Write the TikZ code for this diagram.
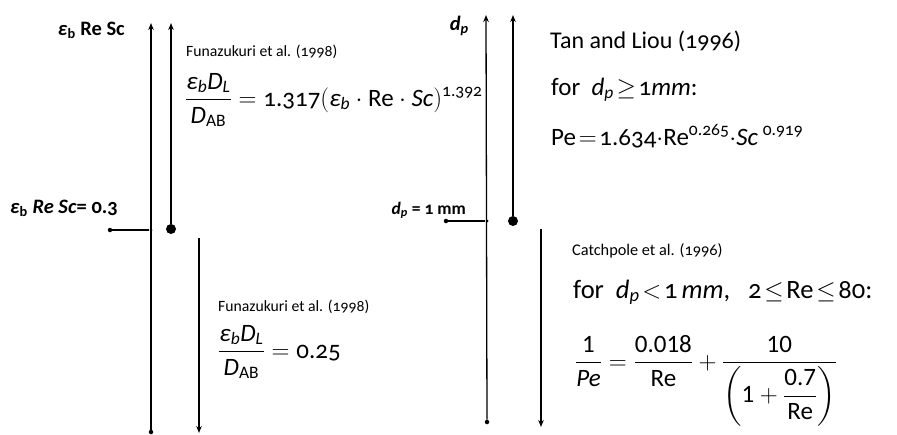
\documentclass[tikz,border=0pt]{standalone}
\usepackage{amsmath}
\usepackage{fontspec}
\setmainfont{Carlito}[Numbers=OldStyle]
\usetikzlibrary{arrows.meta}
\newcommand{\mi}[1]{\text{\itshape #1}}
\newcommand{\up}[1]{\text{#1}}
\newcommand{\lnum}[1]{\text{\addfontfeatures{Numbers=Lining}#1}}
\newcommand{\rel}[1]{\mkern2mu{#1}\mkern2mu}
\tikzset{
  axisline/.style={line width=1.3pt},
  uparrow/.style={axisline, -{Stealth[length=7pt,width=5.5pt]}},
  dnarrow/.style={axisline, -{Stealth[length=7pt,width=5.5pt]}},
  sdot/.style={circle, fill, inner sep=0pt, minimum size=4.5pt},
  jdot/.style={circle, fill, inner sep=0pt, minimum size=3pt},
  bdot/.style={circle, fill, inner sep=0pt, minimum size=10pt},
  reftxt/.style={anchor=base west, inner sep=0pt, font=\fontsize{15.7}{18}\selectfont},
  reftxtb/.style={anchor=base west, inner sep=0pt, font=\fontsize{16.3}{19}\selectfont},
  bigtxt/.style={anchor=base west, inner sep=0pt, font=\fontsize{24}{28}\selectfont},
  condtxt/.style={anchor=base west, inner sep=0pt, font=\fontsize{25}{30}\selectfont},
  condtxtw/.style={anchor=base west, inner sep=0pt, font=\fontsize{26.5}{31}\selectfont},
  eqtxt/.style={anchor=base west, inner sep=0pt, font=\fontsize{25}{30}\selectfont},
  peqtxt/.style={anchor=base west, inner sep=0pt, font=\fontsize{25}{30}\selectfont},
  boldlbl/.style={anchor=base east, inner sep=0pt, font=\fontsize{20.5}{24}\selectfont\bfseries},
  boldlbls/.style={anchor=base east, inner sep=0pt, font=\fontsize{17.5}{21}\selectfont\bfseries},
}
\begin{document}
\begin{tikzpicture}[x=1pt,y=-1pt]
\useasboundingbox (0,0) rectangle (897,434);
% ---------- left group ----------
\node[sdot] (a1) at (151,432) {};
\coordinate (a1t) at (151,23);
\draw[uparrow] (a1) -- (a1t);
\node[bdot] (b1) at (171,229) {};
\coordinate (b1t) at (171,23);
\draw[uparrow] (b1) -- (b1t);
\node[sdot] (h1) at (110,230) {};
\node[jdot] (j1) at (151,230) {};
\draw[axisline] (h1) -- (j1);
\coordinate (c1s) at (199,238);
\coordinate (c1e) at (199,433);
\draw[dnarrow] (c1s) -- (c1e);

\node[boldlbl] (l1) at (125,35) {\textit{ε}$_{\textbf{b}}$ Re Sc};
\node[boldlbl] (l2) at (118,213) {\textit{ε}$_{\textbf{b}}$ \textit{Re Sc}= 0.3};

\node[reftxt] (r1) at (186,56) {Funazukuri et al. (1998)};
\node[eqtxt] (e1) at (185,106) {$\dfrac{\mi{ε}_{\mi{b}}\mi{D}_{\mi{L}}}{\mi{D}_{\up{AB}}}=\up{1.317}(\mi{ε}_{\mi{b}}\cdot\up{Re}\cdot\mi{Sc})^{\up{1.392}}$};
\node[reftxt] (r2) at (218,311) {Funazukuri et al. (1998)};
\node[eqtxt] (e2) at (218,358) {$\dfrac{\mi{ε}_{\mi{b}}\mi{D}_{\mi{L}}}{\mi{D}_{\up{AB}}}=\up{0.25}$};

% ---------- right group ----------
\node[sdot] (a2) at (487,422) {};
\coordinate (a2t) at (486,15);
\draw[uparrow] (a2) -- (a2t);
\node[bdot] (b2) at (513,221) {};
\coordinate (b2t) at (513,15);
\draw[uparrow] (b2) -- (b2t);
\node[sdot] (h2) at (446,221) {};
\node[jdot] (j2) at (487,221) {};
\draw[axisline] (h2) -- (j2);
\coordinate (c2s) at (541,229);
\coordinate (c2e) at (541,427);
\draw[dnarrow] (c2s) -- (c2e);

\node[boldlbl] (l3) at (469,30) {\textit{d}$_{\textbf{\textit{p}}}$};
\node[boldlbls] (l4) at (466,214) {\textit{d}$_{\textbf{\textit{p}}}$ = 1 mm};

\node[bigtxt] (r3) at (550,48) {Tan and Liou (1996)};
\node[condtxt] (k1) at (551,95) {for\ \ $\mi{d}_{\mi{p}}\rel{\geq}\up{1}\mi{mm}$:};
\node[peqtxt] (e3) at (551,145) {$\up{Pe}\rel{=}\up{1.634}{\cdot}\up{Re}^{\up{0.265}}{\cdot}\mi{Sc}^{\;\up{0.919}}$};

\node[reftxtb] (r4) at (572,255) {Catchpole et al. (1996)};
\node[condtxtw] (k2) at (573,298) {for\ \ $\mi{d}_{\mi{p}}\rel{<}\up{1}\,\mi{mm}$,\ \ \ $\up{2}\rel{\leq}\up{Re}\rel{\leq}\up{80}$:};
\node[eqtxt] (e4) at (575,369) {$\dfrac{\lnum{1}}{\mi{Pe}}=\dfrac{\lnum{0.018}}{\up{Re}}+\dfrac{\lnum{10}}{\left(\lnum{1}+\dfrac{\lnum{0.7}}{\up{Re}}\right)}$};
\end{tikzpicture}
\end{document}
